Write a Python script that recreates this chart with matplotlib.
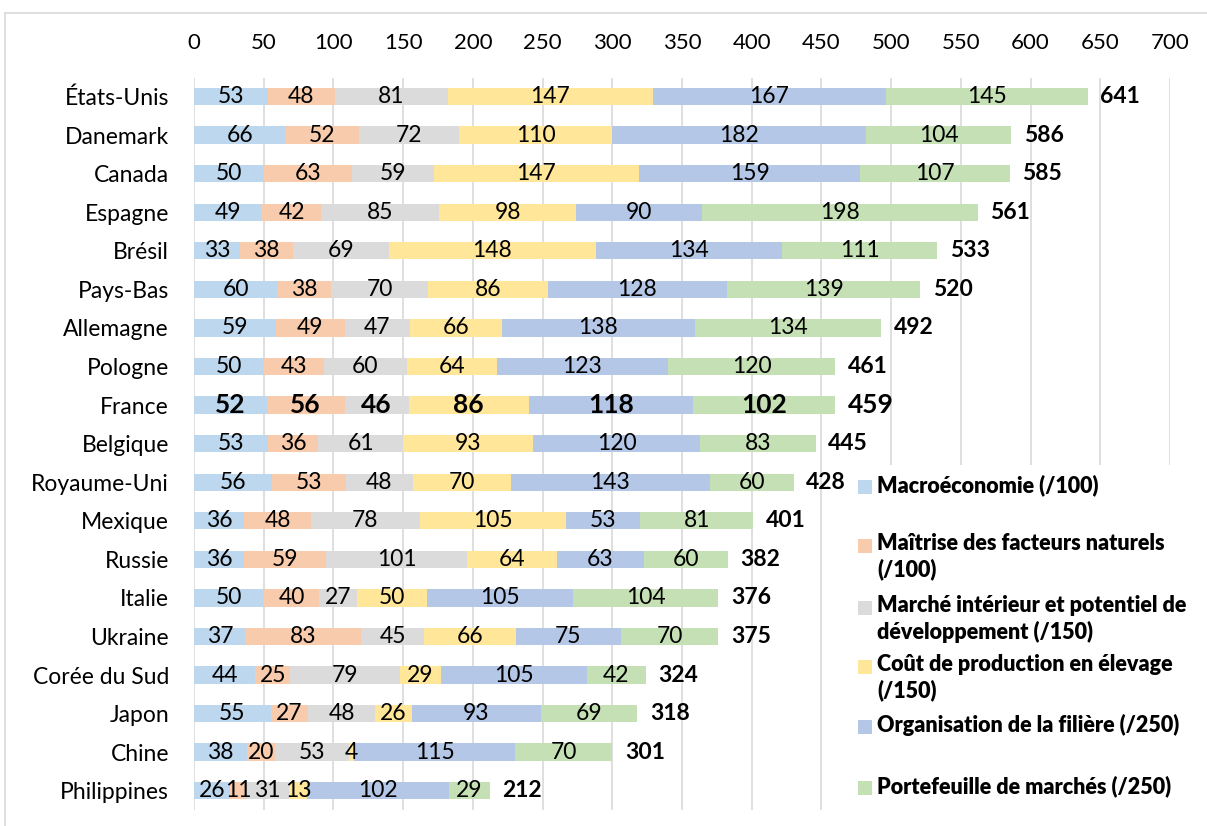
import numpy as np
import matplotlib.pyplot as plt
from matplotlib.patches import Rectangle
from matplotlib.lines import Line2D

plt.rcParams['font.family'] = ['Lato', 'DejaVu Sans']

# data
countries = ['États-Unis', 'Danemark', 'Canada', 'Espagne', 'Brésil', 'Pays-Bas',
             'Allemagne', 'Pologne', 'France', 'Belgique', 'Royaume-Uni', 'Mexique',
             'Russie', 'Italie', 'Ukraine', 'Corée du Sud', 'Japon', 'Chine', 'Philippines']
macro = [53, 66, 50, 49, 33, 60, 59, 50, 52, 53, 56, 36, 36, 50, 37, 44, 55, 38, 26]
maitrise = [48, 52, 63, 42, 38, 38, 49, 43, 56, 36, 53, 48, 59, 40, 83, 25, 27, 20, 11]
marche = [81, 72, 59, 85, 69, 70, 47, 60, 46, 61, 48, 78, 101, 27, 45, 79, 48, 53, 31]
cout = [147, 110, 147, 98, 148, 86, 66, 64, 86, 93, 70, 105, 64, 50, 66, 29, 26, 4, 13]
organisation = [167, 182, 159, 90, 134, 128, 138, 123, 118, 120, 143, 53, 63, 105, 75, 105, 93, 115, 102]
portefeuille = [145, 104, 107, 198, 111, 139, 134, 120, 102, 83, 60, 81, 60, 104, 70, 42, 69, 70, 29]
totals = [641, 586, 585, 561, 533, 520, 492, 461, 459, 445, 428, 401, 382, 376, 375, 324, 318, 301, 212]

series = [macro, maitrise, marche, cout, organisation, portefeuille]
labels = ['Macroéconomie (/100)', 'Maîtrise des facteurs naturels\n(/100)',
          'Marché intérieur et potentiel de\ndéveloppement (/150)',
          'Coût de production en élevage\n(/150)', 'Organisation de la filière (/250)',
          'Portefeuille de marchés (/250)']
colors = ['#BDD7EE', '#F8CBAD', '#DBDBDB', '#FFE699', '#B4C7E7', '#C5E0B4']

fig = plt.figure(figsize=(12.07, 8.26), dpi=100)
ax = fig.add_axes([194/1207, 1-810/826, (1170-194)/1207, (810-78)/826])

y = np.arange(len(countries))
left = np.zeros(len(countries))
for vals, col in zip(series, colors):
    vals = np.array(vals)
    ax.barh(y, vals, left=left, height=0.45, color=col, zorder=2)
    for i, v in enumerate(vals):
        bold = countries[i] == 'France'
        ax.text(left[i] + v/2, y[i], str(v), ha='center', va='center',
                fontsize=19 if bold else 16.5, fontweight='bold' if bold else 'normal',
                color='black', zorder=3)
    left += vals

# totals at the end of each bar
for i, t in enumerate(totals):
    bold_big = countries[i] == 'France'
    ax.text(left[i] + 9, y[i], str(t), ha='left', va='center',
            fontsize=19 if bold_big else 16.5, fontweight='bold', zorder=3)

ax.set_xlim(0, 700)
ax.set_ylim(len(countries) - 0.5, -0.48)
ax.set_xticks(np.arange(0, 701, 50))
ax.xaxis.tick_top()
ax.tick_params(axis='x', length=0, pad=18, labelsize=16)
ax.set_yticks(y)
ax.set_yticklabels(countries)
ax.tick_params(axis='y', length=0, pad=18, labelsize=16.5)
ax.grid(axis='x', color='#D9D9D9', linewidth=1.2, zorder=0)
for s in ax.spines.values():
    s.set_visible(False)

# legend box covering the plot area
fig.patches.append(Rectangle((848/1207, 1-810/826), 359/1207, 345/826,
                             transform=fig.transFigure, facecolor='white',
                             edgecolor='none', zorder=5))
leg_y = [487, 546, 608, 667, 727, 788]
for ly, lab, col in zip(leg_y, labels, colors):
    fig.patches.append(Rectangle((858/1207, 1-(ly+7)/826), 14/1207, 14/826,
                                 transform=fig.transFigure, facecolor=col,
                                 edgecolor='none', zorder=6))
    fig.text(877/1207, 1-(ly-13)/826, lab, ha='left', va='top', fontsize=15.5,
             fontweight='heavy', linespacing=1.25, zorder=7)

# outer frame
fig.lines.append(Line2D([5/1207, 1], [1-13/826, 1-13/826], transform=fig.transFigure,
                        color='#D9D9D9', linewidth=1.2))
fig.lines.append(Line2D([5/1207, 5/1207], [0, 1-13/826], transform=fig.transFigure,
                        color='#D9D9D9', linewidth=1.2))

fig.savefig('out.png', dpi=100)
